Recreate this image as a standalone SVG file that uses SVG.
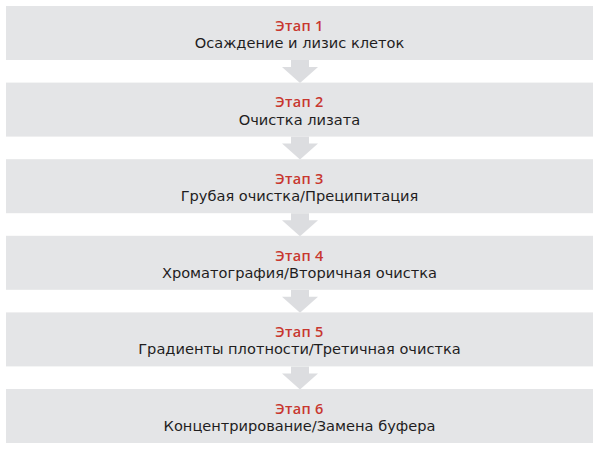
<svg xmlns="http://www.w3.org/2000/svg" width="600" height="450" viewBox="0 0 600 450">
<style>
.box{fill:#e4e5e7}
.arr{fill:#dcdde0}
.lbl{font-family:"Open Sans","Liberation Sans",sans-serif;font-size:14.5px;font-weight:600;fill:#c8372f;text-anchor:middle;letter-spacing:0.3px}
.txt{font-family:"DejaVu Sans","Liberation Sans",sans-serif;font-size:14.6px;fill:#1f1d1e;text-anchor:middle}
</style>
<rect width="600" height="450" fill="#ffffff"/>
<g id="connectors">
<polygon class="arr" points="291,60 309,60 309,67 318,67 300,83 282,67 291,67"/>
<polygon class="arr" points="291,136.6 309,136.6 309,143.6 318,143.6 300,159.6 282,143.6 291,143.6"/>
<polygon class="arr" points="291,213.2 309,213.2 309,220.2 318,220.2 300,236.2 282,220.2 291,220.2"/>
<polygon class="arr" points="291,289.8 309,289.8 309,296.8 318,296.8 300,312.8 282,296.8 291,296.8"/>
<polygon class="arr" points="291,366.4 309,366.4 309,373.4 318,373.4 300,389.4 282,373.4 291,373.4"/>
</g>
<g id="step1">
<rect class="box" x="6" y="6" width="587" height="54"/>
<text class="lbl" x="299.5" y="30.7">Этап 1</text>
<text class="txt" x="299.5" y="48">Осаждение и лизис клеток</text>
</g>
<g id="step2">
<rect class="box" x="6" y="82.6" width="587" height="54"/>
<text class="lbl" x="299.5" y="107.3">Этап 2</text>
<text class="txt" x="299.5" y="124.6">Очистка лизата</text>
</g>
<g id="step3">
<rect class="box" x="6" y="159.2" width="587" height="54"/>
<text class="lbl" x="299.5" y="183.9">Этап 3</text>
<text class="txt" x="299.5" y="201.2">Грубая очистка/Преципитация</text>
</g>
<g id="step4">
<rect class="box" x="6" y="235.8" width="587" height="54"/>
<text class="lbl" x="299.5" y="260.5">Этап 4</text>
<text class="txt" x="299.5" y="277.8">Хроматография/Вторичная очистка</text>
</g>
<g id="step5">
<rect class="box" x="6" y="312.4" width="587" height="54"/>
<text class="lbl" x="299.5" y="337.1">Этап 5</text>
<text class="txt" x="299.5" y="354.4">Градиенты плотности/Третичная очистка</text>
</g>
<g id="step6">
<rect class="box" x="6" y="389" width="587" height="54"/>
<text class="lbl" x="299.5" y="413.7">Этап 6</text>
<text class="txt" x="299.5" y="431">Концентрирование/Замена буфера</text>
</g>
</svg>
